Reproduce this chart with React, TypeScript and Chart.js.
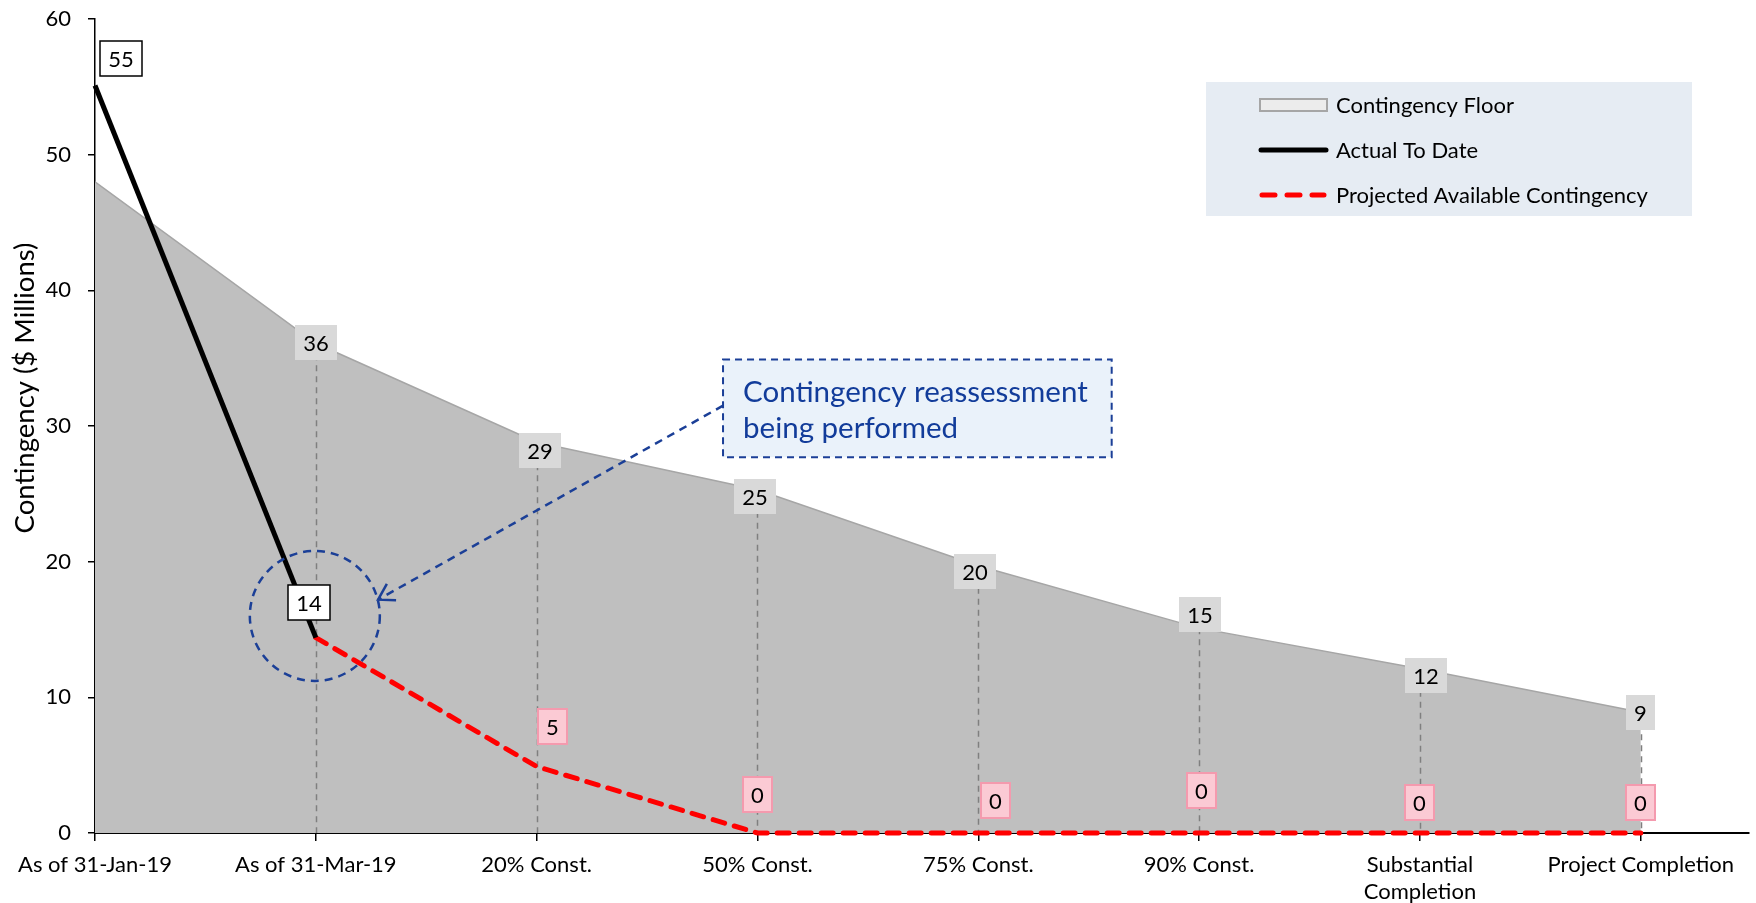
import React, { useEffect, useRef } from 'react';
import { Chart, registerables } from 'chart.js';

Chart.register(...registerables);

const categories: (string | string[])[] = [
  'As of 31-Jan-19',
  'As of 31-Mar-19',
  '20% Const.',
  '50% Const.',
  '75% Const.',
  '90% Const.',
  ['Substantial', 'Completion'],
  'Project Completion',
];

const contingencyFloor = [48.0, 36.1, 28.8, 25.3, 19.7, 15.1, 12.1, 8.9];
const actualToDate: (number | null)[] = [55.1, 14.4, null, null, null, null, null, null];
const projectedAvailable: (number | null)[] = [null, 14.4, 4.9, 0, 0, 0, 0, 0];

const yTicks = [0, 10, 20, 30, 40, 50, 60];

const yAxisTitle = 'Contingency ($ Millions)';
const calloutLines = ['Contingency reassessment', 'being performed'];

const FONT = 'Lato, "Open Sans", sans-serif';

// label nudges in pixels (dx, dy) relative to the data point
const floorLabelNudge: ([number, number] | null)[] = [null, [0, -1], [3, 8], [-2, 7], [-3, 6], [1, -14], [6, 7], [0, 0]];
const actualLabelNudge: ([number, number] | null)[] = [[26, -27], [-7, -35]];
const projectedLabelNudge: ([number, number] | null)[] = [null, null, [16, -40], [0, -39], [17, -33], [2, -43], [0, -31], [0, -31]];

function toPoints(arr: (number | null)[]) {
  const out: { x: number; y: number }[] = [];
  arr.forEach((v, i) => {
    if (v !== null && v !== undefined) out.push({ x: i, y: v });
  });
  return out;
}

function drawLabelBox(
  ctx: CanvasRenderingContext2D,
  cx: number,
  cy: number,
  text: string,
  fill: string,
  stroke: string | null,
  strokeWidth: number,
  padX: number,
) {
  ctx.save();
  ctx.font = `22px ${FONT}`;
  const w = Math.round(ctx.measureText(text).width + padX * 2);
  const h = 35;
  const x = Math.round(cx - w / 2);
  const y = Math.round(cy - h / 2);
  ctx.fillStyle = fill;
  ctx.fillRect(x, y, w, h);
  if (stroke) {
    ctx.strokeStyle = stroke;
    ctx.lineWidth = strokeWidth;
    ctx.strokeRect(x, y, w, h);
  }
  ctx.fillStyle = '#000';
  ctx.textAlign = 'center';
  ctx.textBaseline = 'middle';
  ctx.fillText(text, x + w / 2, y + h / 2 + 1);
  ctx.restore();
}

const overlayPlugin = {
  id: 'overlay',
  afterDatasetDraw(chart: any, args: any) {
    if (args.index !== 0) return;
    const { ctx } = chart;
    const xs = chart.scales.x;
    const ys = chart.scales.y;
    ctx.save();
    ctx.strokeStyle = '#7F7F7F';
    ctx.lineWidth = 1.5;
    ctx.setLineDash([6, 5]);
    contingencyFloor.forEach((v, i) => {
      if (i === 0) return;
      const px = Math.round(xs.getPixelForValue(i)) + 0.5;
      ctx.beginPath();
      ctx.moveTo(px, ys.getPixelForValue(v));
      ctx.lineTo(px, ys.getPixelForValue(0));
      ctx.stroke();
    });
    ctx.restore();
  },
  afterDraw(chart: any) {
    const { ctx, chartArea } = chart;
    const xs = chart.scales.x;
    const ys = chart.scales.y;

    // y axis title
    ctx.save();
    ctx.translate(25, ys.getPixelForValue(32.8));
    ctx.rotate(-Math.PI / 2);
    ctx.fillStyle = '#000';
    ctx.font = `27.5px ${FONT}`;
    ctx.textAlign = 'center';
    ctx.textBaseline = 'middle';
    ctx.fillText(yAxisTitle, 0, 0);
    ctx.restore();

    // data labels: floor
    contingencyFloor.forEach((v, i) => {
      const n = floorLabelNudge[i];
      if (!n) return;
      drawLabelBox(ctx, xs.getPixelForValue(i) + n[0], ys.getPixelForValue(v) + n[1], String(Math.round(v)), '#D9D9D9', null, 0, 8);
    });
    // actual
    actualToDate.forEach((v, i) => {
      const n = actualLabelNudge[i];
      if (v === null || !n) return;
      drawLabelBox(ctx, xs.getPixelForValue(i) + n[0], ys.getPixelForValue(v) + n[1], String(Math.round(v)), '#FFFFFF', '#000000', 1.5, 8);
    });
    // projected
    projectedAvailable.forEach((v, i) => {
      const n = projectedLabelNudge[i];
      if (v === null || !n) return;
      drawLabelBox(ctx, xs.getPixelForValue(i) + n[0], ys.getPixelForValue(v) + n[1], String(Math.round(v)), '#FBCAD4', '#F49AAE', 2, 8);
    });

    // annotation circle
    const cx = xs.getPixelForValue(1) - 1;
    const cy = ys.getPixelForValue(16);
    ctx.save();
    ctx.strokeStyle = '#1B3F97';
    ctx.lineWidth = 2.5;
    ctx.setLineDash([8, 6]);
    ctx.beginPath();
    ctx.arc(cx, cy, 65, 0, Math.PI * 2);
    ctx.stroke();

    // callout box
    const bx1 = xs.getPixelForValue(2.844);
    const bx2 = xs.getPixelForValue(4.604);
    const by1 = ys.getPixelForValue(34.9);
    const by2 = ys.getPixelForValue(27.7);
    ctx.setLineDash([]);
    ctx.fillStyle = '#EAF2FA';
    ctx.fillRect(bx1, by1, bx2 - bx1, by2 - by1);
    ctx.setLineDash([7, 5]);
    ctx.lineWidth = 2;
    ctx.strokeStyle = '#1B3F97';
    ctx.strokeRect(bx1, by1, bx2 - bx1, by2 - by1);
    ctx.fillStyle = '#123C9A';
    ctx.font = `29.5px ${FONT}`;
    ctx.textAlign = 'left';
    ctx.textBaseline = 'middle';
    ctx.fillText(calloutLines[0], bx1 + 20, by1 + 33);
    ctx.fillText(calloutLines[1], bx1 + 20, by1 + 69);

    // arrow
    const ax1 = bx1;
    const ay1 = ys.getPixelForValue(31.5);
    const ax2 = xs.getPixelForValue(1.282);
    const ay2 = ys.getPixelForValue(17.2);
    ctx.lineWidth = 2.5;
    ctx.setLineDash([8, 6]);
    ctx.beginPath();
    ctx.moveTo(ax1, ay1);
    ctx.lineTo(ax2, ay2);
    ctx.stroke();
    const ang = Math.atan2(ay1 - ay2, ax1 - ax2);
    ctx.setLineDash([]);
    ctx.beginPath();
    const L = 18;
    ctx.moveTo(ax2 + L * Math.cos(ang + 0.55), ay2 + L * Math.sin(ang + 0.55));
    ctx.lineTo(ax2, ay2);
    ctx.lineTo(ax2 + L * Math.cos(ang - 0.55), ay2 + L * Math.sin(ang - 0.55));
    ctx.stroke();
    ctx.restore();

    // legend
    const lx = chartArea.right - 543;
    const ly = chartArea.top + 63;
    const lw = 486;
    const lh = 134;
    ctx.save();
    ctx.fillStyle = '#E6ECF3';
    ctx.fillRect(lx, ly, lw, lh);
    const rows = [ly + 23, ly + 68, ly + 113];
    const sx1 = lx + 53;
    const sx2 = lx + 122;
    const tx = lx + 130;
    // floor swatch
    ctx.fillStyle = '#ECECEC';
    ctx.fillRect(sx1 + 1, rows[0] - 6, sx2 - sx1 - 2, 12);
    ctx.strokeStyle = '#A6A6A6';
    ctx.lineWidth = 2;
    ctx.strokeRect(sx1 + 1, rows[0] - 6, sx2 - sx1 - 2, 12);
    // actual swatch
    ctx.strokeStyle = '#000';
    ctx.lineWidth = 5;
    ctx.lineCap = 'round';
    ctx.beginPath();
    ctx.moveTo(sx1 + 2, rows[1]);
    ctx.lineTo(sx2 - 2, rows[1]);
    ctx.stroke();
    // projected swatch
    ctx.strokeStyle = '#FF0000';
    ctx.setLineDash([13, 12]);
    ctx.beginPath();
    ctx.moveTo(sx1 + 3, rows[2]);
    ctx.lineTo(sx2 - 4, rows[2]);
    ctx.stroke();
    ctx.setLineDash([]);
    ctx.fillStyle = '#000';
    ctx.font = `22px ${FONT}`;
    ctx.textAlign = 'left';
    ctx.textBaseline = 'middle';
    chart.data.datasets.forEach((ds: any, i: number) => {
      ctx.fillText(ds.label, tx, rows[i] + 1);
    });
    ctx.restore();
  },
};

export default function App() {
  const canvasRef = useRef<HTMLCanvasElement | null>(null);

  useEffect(() => {
    if (!canvasRef.current) return;
    Chart.defaults.font.family = FONT;
    const chart = new Chart(canvasRef.current, {
      type: 'line',
      data: {
        datasets: [
          {
            label: 'Contingency Floor',
            data: toPoints(contingencyFloor),
            fill: 'origin',
            backgroundColor: '#BFBFBF',
            borderColor: '#A6A6A6',
            borderWidth: 1.5,
            pointRadius: 0,
            tension: 0,
            order: 3,
          },
          {
            label: 'Actual To Date',
            data: toPoints(actualToDate),
            fill: false,
            borderColor: '#000000',
            borderWidth: 5,
            pointRadius: 0,
            tension: 0,
            order: 1,
            clip: false,
          },
          {
            label: 'Projected Available Contingency',
            data: toPoints(projectedAvailable),
            fill: false,
            borderColor: '#FF0000',
            borderWidth: 5,
            borderDash: [12, 10],
            borderCapStyle: 'round',
            pointRadius: 0,
            tension: 0,
            order: 2,
            clip: false,
          },
        ],
      },
      options: {
        animation: false,
        responsive: true,
        maintainAspectRatio: false,
        layout: { padding: { top: 19, right: 7, left: 0, bottom: 0 } },
        plugins: {
          legend: { display: false },
          tooltip: { enabled: false },
          title: { display: false },
        },
        scales: {
          x: {
            type: 'linear',
            min: 0,
            max: 7.49,
            afterBuildTicks: (s: any) => {
              s.ticks = categories.map((_, i) => ({ value: i }));
            },
            afterFit: (s: any) => {
              s.height = 70;
            },
            ticks: {
              callback: (v: any) => categories[v as number] ?? '',
              color: '#000',
              font: { size: 22, family: FONT },
              padding: 11,
              maxRotation: 0,
              autoSkip: false,
            },
            grid: {
              drawOnChartArea: false,
              drawTicks: true,
              tickLength: 8,
              color: '#000',
              lineWidth: 1.5,
            },
            border: { display: true, color: '#000', width: 2 },
          },
          y: {
            min: 0,
            max: 60,
            afterBuildTicks: (s: any) => {
              s.ticks = yTicks.map((v) => ({ value: v }));
            },
            afterFit: (s: any) => {
              s.width = 95;
              s.paddingTop = 0;
              s.paddingBottom = 0;
            },
            ticks: {
              color: '#000',
              font: { size: 22, family: FONT },
              padding: 17,
            },
            grid: {
              drawOnChartArea: false,
              drawTicks: true,
              tickLength: 7,
              color: '#000',
              lineWidth: 1.5,
            },
            border: { display: true, color: '#000', width: 1.5 },
          },
        },
      } as any,
      plugins: [overlayPlugin],
    });
    return () => chart.destroy();
  }, []);

  return (
    <div style={{ position: 'fixed', left: 0, top: 0, width: 1756, height: 903, background: '#fff' }}>
      <canvas ref={canvasRef} />
    </div>
  );
}
